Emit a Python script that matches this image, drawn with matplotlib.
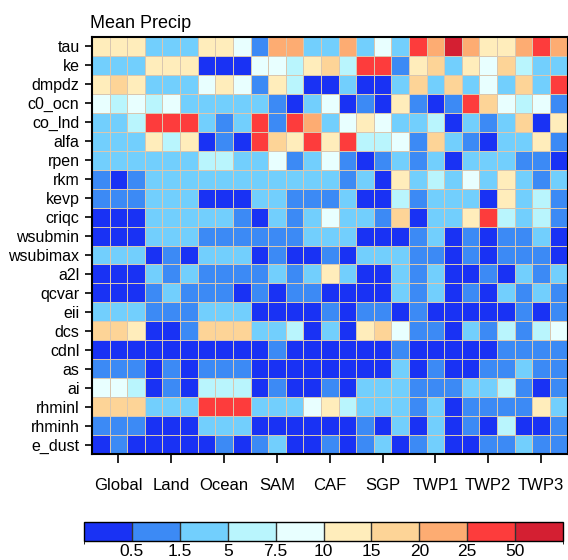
import numpy as np
import matplotlib
matplotlib.use("Agg")
import matplotlib.pyplot as plt
from matplotlib.colors import ListedColormap, BoundaryNorm

plt.rcParams['font.family'] = ['Liberation Sans', 'DejaVu Sans']

# parameter names (rows, top to bottom) and regions (3 columns per region)
params = ['tau', 'ke', 'dmpdz', 'c0_ocn', 'co_lnd', 'alfa', 'rpen', 'rkm', 'kevp', 'criqc',
          'wsubmin', 'wsubimax', 'a2l', 'qcvar', 'eii', 'dcs', 'cdnl', 'as', 'ai',
          'rhminl', 'rhminh', 'e_dust']
regions = ['Global', 'Land', 'Ocean', 'SAM', 'CAF', 'SGP', 'TWP1', 'TWP2', 'TWP3']

# contour levels and colours of the colour bar
levels = [0.5, 1.5, 5, 7.5, 10, 15, 20, 25, 50]
colors = ['#1932F4', '#3C8AF5', '#72CFFD', '#B9F5FD', '#E8FFFF',
          '#FFEDBB', '#FDD497', '#FDAC72', '#FD3C3C', '#D41F32']
# typical value inside each colour bin
bin_vals = [0.3, 1, 3, 6, 9, 12, 17, 22, 35, 60]

# bin index, one list per parameter
tau      = [5,5,5,2,2,2,5,5,4,1,7,7,2,2,7,2,4,2,8,7,9,7,5,5,7,8,7]
ke       = [2,2,2,5,5,5,0,0,0,4,4,3,5,6,3,8,8,1,5,6,2,5,4,6,3,2,2]
dmpdz    = [5,6,5,2,2,2,4,5,4,1,5,3,0,0,2,0,0,2,6,2,6,2,4,2,6,2,8]
c0_ocn   = [4,3,4,3,4,2,2,2,2,2,1,0,2,4,0,1,0,5,1,0,1,8,6,4,3,4,1]
co_lnd   = [2,2,3,8,8,8,2,1,2,8,1,8,7,2,4,5,4,2,2,3,0,2,1,2,6,0,5]
alfa     = [2,2,2,5,3,5,0,1,0,8,6,5,8,5,8,3,3,4,1,6,2,1,0,2,2,5,1]
rpen     = [2,2,2,2,2,2,3,3,2,2,4,1,2,4,1,0,1,2,1,2,0,2,2,2,1,1,0]
rkm      = [1,0,1,2,2,2,2,2,2,2,2,2,2,2,1,2,0,5,2,3,2,4,2,5,2,1,2]
kevp     = [1,1,1,2,2,2,0,0,0,2,2,1,1,1,2,0,0,3,1,2,2,2,0,5,2,3,1]
criqc    = [0,0,0,2,2,2,2,2,1,0,2,1,2,4,2,2,1,6,0,2,2,5,8,3,2,3,1]
wsubmin  = [0,0,0,2,2,2,1,1,1,1,1,1,2,2,2,0,0,0,1,2,0,1,0,1,1,2,0]
wsubimax = [2,2,2,0,1,0,2,2,2,0,1,0,0,1,0,2,2,2,1,1,0,1,0,1,1,1,0]
a2l      = [0,0,0,2,1,2,1,1,1,1,2,1,2,5,2,0,0,2,1,2,0,0,1,0,2,1,2]
qcvar    = [0,0,0,1,2,1,1,1,0,1,0,1,1,0,0,0,0,2,1,2,0,1,0,2,1,2,1]
eii      = [2,2,2,1,1,1,2,2,2,0,0,0,0,1,0,1,1,0,1,0,0,0,0,0,1,0,1]
dcs      = [6,6,5,0,0,1,6,6,6,2,2,3,0,2,0,5,6,4,1,1,0,2,1,3,1,3,4]
cdnl     = [0,0,0,0,0,0,0,0,0,0,1,0,0,0,0,0,0,1,0,0,0,0,0,1,1,1,1]
as_      = [1,1,1,0,1,0,1,1,1,0,0,0,0,0,0,0,0,2,0,1,0,0,1,1,2,1,1]
ai       = [4,4,3,0,1,0,3,3,3,0,1,0,0,1,0,2,2,2,1,1,1,2,2,3,1,0,1]
rhminl   = [6,6,6,2,2,2,8,8,8,2,2,2,4,5,3,2,2,2,1,2,0,1,1,1,1,5,2]
rhminh   = [1,1,1,0,0,0,2,2,2,0,0,0,0,0,0,1,0,2,0,2,0,1,0,3,0,0,1]
e_dust   = [0,1,0,0,0,0,0,1,0,1,2,0,0,1,0,1,2,0,1,2,0,0,1,1,2,1,1]

rows = [tau, ke, dmpdz, c0_ocn, co_lnd, alfa, rpen, rkm, kevp, criqc, wsubmin,
        wsubimax, a2l, qcvar, eii, dcs, cdnl, as_, ai, rhminl, rhminh, e_dust]
data = np.array(bin_vals)[np.array(rows)]

cmap = ListedColormap(colors)
bounds = [0] + levels + [100]
norm = BoundaryNorm(bounds, cmap.N)

fig = plt.figure(figsize=(5.68, 5.60), dpi=100)
ax = fig.add_axes([92/568, 1 - 454/560, 475.5/568, 417/560])

ny, nx = data.shape
ax.pcolormesh(np.arange(nx + 1), np.arange(ny + 1), data, cmap=cmap, norm=norm,
              edgecolor='#D9C7B0', linewidth=0.7)
ax.set_xlim(0, nx)
ax.set_ylim(ny, 0)

ax.set_yticks(np.arange(ny) + 0.5)
ax.set_yticklabels(params, fontsize=11.5)
ax.set_xticks(np.arange(len(regions)) * 3 + 1.5)
ax.set_xticklabels(regions, fontsize=12)
ax.tick_params(axis='y', direction='out', length=5, width=1.2, pad=4)
ax.tick_params(axis='x', direction='out', length=6.5, width=1.2, pad=11)
for s in ax.spines.values():
    s.set_linewidth(1.5)

ax.text(-0.004, 1.012, 'Mean Precip', transform=ax.transAxes, fontsize=13,
        ha='left', va='bottom')

cax = fig.add_axes([84/568, 1 - 541/560, 479/568, 19/560])
cb = fig.colorbar(plt.cm.ScalarMappable(norm=norm, cmap=cmap), cax=cax,
                  orientation='horizontal', ticks=levels, drawedges=True,
                  spacing='uniform')
cb.ax.set_xticklabels([str(v) for v in levels], fontsize=12.5)
cb.ax.tick_params(length=0, pad=2)
cb.outline.set_linewidth(1.0)
cb.dividers.set_color('#333333')
cb.dividers.set_linewidth(1.0)

fig.savefig('out.png', dpi=100)
